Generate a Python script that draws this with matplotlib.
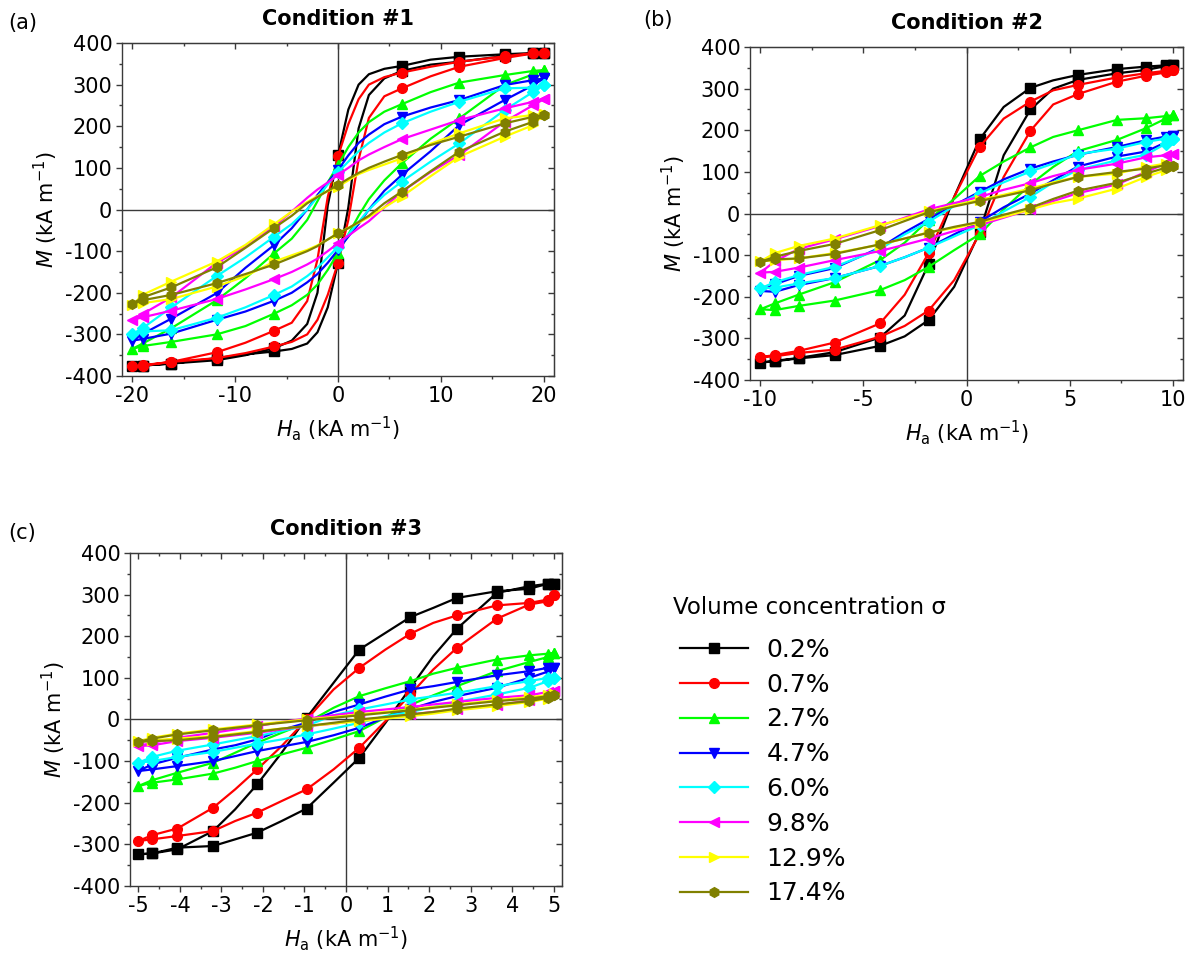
import numpy as np
import matplotlib
matplotlib.use("Agg")
import matplotlib.pyplot as plt
from matplotlib.ticker import MultipleLocator

plt.rcParams['font.family'] = ['DejaVu Sans']
plt.rcParams['mathtext.fontset'] = 'dejavusans'
plt.rcParams['axes.unicode_minus'] = False

# Series styling
labels = ['0.2%', '0.7%', '2.7%', '4.7%', '6.0%', '9.8%', '12.9%', '17.4%']
colors = ['#000000', '#ff0000', '#00ff00', '#0000ff', '#00ffff', '#ff00ff', '#ffff00', '#808000']
markers = ['s', 'o', '^', 'v', 'D', '<', '>', 'h']

# ---- Condition #1 ----
# field values of the descending branch (+Hmax -> -Hmax); ascending branch uses the reversed list
h_a = [20, 19, 16.2, 11.8, 9, 6.2, 4.5, 3, 2, 1, 0, -1, -2, -3, -4.5, -6.2, -9, -11.8, -16.2, -19, -20]
marks_a = [20, 19, 16.2, 11.8, 6.2, 0, -6.2, -11.8, -16.2, -19, -20]
a_down = [
    [377, 376, 373, 367, 360, 345, 338, 325, 300, 240, 130, 10, -200, -275, -315, -333, -350, -362, -370, -375, -377],
    [377, 376, 368, 355, 343, 329, 318, 300, 265, 205, 128, 30, -120, -220, -272, -291, -320, -343, -366, -374, -377],
    [335, 333, 323, 305, 282, 253, 235, 210, 185, 150, 107, 65, 20, -25, -70, -105, -165, -218, -285, -322, -335],
    [315, 311, 299, 263, 245, 223, 205, 180, 160, 130, 95, 65, 35, 0, -45, -85, -140, -201, -262, -299, -315],
    [299, 293, 291, 259, 235, 207, 185, 160, 140, 115, 90, 60, 30, 0, -35, -65, -115, -160, -235, -285, -299],
    [265, 259, 243, 215, 192, 169, 150, 132, 118, 100, 83, 65, 48, 28, -5, -40, -90, -128, -211, -251, -265],
    [230, 227, 219, 183, 158, 123, 108, 95, 85, 70, 55, 44, 32, 18, -5, -35, -85, -125, -173, -205, -230],
    [227, 223, 207, 175, 155, 131, 115, 100, 88, 74, 59, 45, 30, 15, -15, -44, -92, -139, -187, -211, -227],
]
a_up = [
    [-377, -375, -370, -357, -348, -341, -335, -322, -295, -235, -128, 5, 195, 275, 315, 333, 348, 355, 369, 375, 377],
    [-377, -375, -366, -357, -345, -329, -318, -300, -265, -205, -128, -25, 120, 220, 272, 291, 320, 343, 364, 375, 377],
    [-335, -328, -318, -300, -280, -250, -230, -205, -180, -145, -104, -60, -15, 25, 70, 111, 170, 219, 299, 325, 335],
    [-315, -311, -298, -265, -245, -219, -200, -175, -155, -128, -97, -65, -35, 0, 45, 83, 140, 203, 263, 299, 315],
    [-299, -293, -290, -260, -235, -205, -185, -160, -140, -115, -89, -60, -30, 0, 35, 67, 115, 159, 239, 283, 299],
    [-265, -259, -243, -215, -192, -167, -150, -132, -118, -100, -81, -63, -45, -28, 5, 43, 90, 131, 211, 251, 265],
    [-230, -225, -215, -185, -160, -125, -110, -97, -86, -72, -57, -44, -32, -18, 5, 31, 80, 127, 175, 203, 230],
    [-227, -218, -205, -177, -155, -132, -115, -100, -88, -72, -57, -45, -30, -15, 15, 43, 92, 139, 187, 211, 227],
]

# ---- Condition #2 ----
h_b = [10, 9.66, 8.7, 7.3, 5.4, 4.2, 3.1, 1.8, 0.63, -0.6, -1.84, -3, -4.2, -6.4, -8.15, -9.3, -10]
marks_b = [10, 9.66, 8.7, 7.3, 5.4, 3.1, 0.63, -1.84, -4.2, -6.4, -8.15, -9.3, -10]
b_down = [
    [358, 356, 353, 347, 333, 320, 302, 256, 178, 40, -121, -245, -298, -333, -347, -354, -358],
    [345, 343, 337, 327, 309, 296, 269, 228, 160, 40, -95, -195, -264, -310, -330, -340, -345],
    [236, 234, 229, 225, 200, 184, 159, 125, 90, 35, -15, -70, -112, -165, -195, -216, -230],
    [186, 185, 176, 160, 141, 125, 108, 82, 52, 20, -13, -45, -82, -131, -150, -170, -186],
    [180, 180, 172, 156, 143, 120, 101, 75, 48, 18, -20, -50, -85, -128, -148, -165, -180],
    [142, 140, 135, 120, 105, 90, 73, 57, 40, 25, 10, -10, -30, -62, -85, -115, -142],
    [115, 120, 112, 96, 88, 75, 60, 45, 33, 20, 5, -12, -28, -60, -78, -95, -115],
    [115, 116, 108, 100, 88, 72, 56, 42, 30, 17, 3, -18, -40, -73, -90, -104, -116],
]
b_up = [
    [-358, -355, -348, -340, -318, -295, -256, -176, -45, 140, 250, 300, 321, 337, 345, 354, 358],
    [-345, -343, -335, -327, -296, -270, -233, -160, -49, 88, 199, 262, 287, 317, 331, 339, 345],
    [-230, -232, -222, -209, -184, -160, -128, -88, -50, 10, 70, 112, 150, 177, 205, 228, 236],
    [-186, -188, -172, -155, -126, -105, -82, -50, -20, 15, 48, 80, 113, 137, 149, 171, 186],
    [-180, -178, -168, -155, -126, -105, -82, -55, -28, 5, 40, 75, 105, 128, 141, 168, 180],
    [-142, -140, -130, -112, -90, -75, -60, -42, -28, -10, 10, 30, 49, 70, 100, 120, 142],
    [-115, -112, -108, -95, -75, -60, -45, -35, -22, -8, 10, 25, 36, 60, 88, 104, 115],
    [-116, -110, -108, -97, -74, -60, -46, -32, -20, -3, 14, 35, 55, 74, 96, 110, 115],
]

# ---- Condition #3 ----
h_c = [5, 4.86, 4.41, 3.63, 2.67, 2.1, 1.55, 0.95, 0.32, -0.3, -0.95, -1.55, -2.14, -2.67, -3.2, -4.06, -4.67, -5]
marks_c = [5, 4.86, 4.41, 3.63, 2.67, 1.55, 0.32, -0.95, -2.14, -3.2, -4.06, -4.67, -5]
c_down = [
    [326, 326, 314, 308, 292, 268, 246, 208, 168, 88, 4, -80, -156, -216, -268, -312, -322, -324],
    [300, 288, 280, 274, 250, 232, 206, 168, 124, 72, 0, -64, -120, -168, -212, -262, -278, -292],
    [160, 158, 154, 144, 124, 110, 92, 75, 56, 28, -8, -32, -56, -80, -104, -128, -146, -160],
    [124, 124, 116, 106, 90, 80, 72, 55, 36, 18, -8, -25, -48, -62, -72, -92, -108, -124],
    [100, 100, 92, 80, 64, 56, 48, 36, 24, 10, -15, -28, -40, -50, -60, -75, -90, -104],
    [68, 66, 58, 52, 42, 36, 30, 24, 18, 10, 2, -6, -16, -24, -32, -44, -56, -64],
    [60, 58, 54, 46, 36, 30, 24, 18, 12, 6, 0, -6, -12, -18, -24, -34, -44, -52],
    [58, 56, 50, 44, 34, 28, 22, 16, 10, 4, -2, -8, -14, -20, -26, -36, -46, -54],
]
c_up = [
    [-324, -322, -308, -304, -288, -272, -244, -214, -152, -92, -8, 76, 152, 218, 304, 320, 326, 326],
    [-292, -288, -280, -268, -244, -224, -196, -168, -120, -68, -4, 60, 120, 172, 242, 276, 284, 300],
    [-160, -152, -144, -130, -116, -100, -84, -68, -48, -28, 5, 35, 58, 80, 116, 138, 150, 160],
    [-124, -120, -112, -100, -88, -76, -65, -54, -38, -20, 5, 25, 42, 56, 76, 100, 115, 124],
    [-104, -100, -90, -78, -68, -58, -48, -36, -22, -8, 8, 18, 30, 42, 60, 76, 92, 100],
    [-66, -62, -52, -44, -38, -32, -24, -16, -10, -2, 4, 12, 18, 24, 34, 46, 58, 68],
    [-52, -50, -46, -40, -34, -28, -22, -16, -10, -4, 2, 8, 14, 22, 32, 42, 50, 60],
    [-54, -52, -50, -42, -36, -30, -22, -16, -8, 0, 6, 12, 18, 26, 36, 44, 52, 58],
]

spine_col = '#3a3a3a'
fs = 15


def draw_panel(ax, h, marks, down, up, xlim, xmajor, title):
    h = np.array(h, dtype=float)
    h_loop = np.concatenate([h, h[::-1][1:]])
    idx = [i for i in range(len(h_loop)) if h_loop[i] in marks]
    ax.axhline(0, color=spine_col, lw=1.0, zorder=1)
    ax.axvline(0, color=spine_col, lw=1.0, zorder=1)
    for k in range(len(labels)):
        m_loop = np.concatenate([down[k], up[k][1:]])
        ax.plot(h_loop, m_loop, color=colors[k], lw=1.6, marker=markers[k],
                ms=6 if markers[k] == 'D' else 7, markevery=idx, label=labels[k],
                zorder=2 + k)
    ax.set_xlim(xlim)
    ax.set_ylim(-400, 400)
    ax.xaxis.set_major_locator(MultipleLocator(xmajor))
    ax.xaxis.set_minor_locator(MultipleLocator(xmajor / 2))
    ax.yaxis.set_major_locator(MultipleLocator(100))
    ax.yaxis.set_minor_locator(MultipleLocator(50))
    ax.tick_params(which='both', direction='out', labelsize=fs, color=spine_col, width=1)
    ax.tick_params(which='major', length=4, pad=3)
    ax.tick_params(which='minor', length=2.5)
    for s in ax.spines.values():
        s.set_color(spine_col)
        s.set_linewidth(1.0)
    # inward mirror ticks on top and right
    top = ax.secondary_xaxis('top')
    top.xaxis.set_major_locator(MultipleLocator(xmajor))
    top.xaxis.set_minor_locator(MultipleLocator(xmajor / 2))
    top.tick_params(which='both', direction='in', labeltop=False, color=spine_col, width=1)
    top.tick_params(which='major', length=4)
    top.tick_params(which='minor', length=2.5)
    top.spines['top'].set_color(spine_col)
    right = ax.secondary_yaxis('right')
    right.yaxis.set_major_locator(MultipleLocator(100))
    right.yaxis.set_minor_locator(MultipleLocator(50))
    right.tick_params(which='both', direction='in', labelright=False, color=spine_col, width=1)
    right.tick_params(which='major', length=4)
    right.tick_params(which='minor', length=2.5)
    right.spines['right'].set_color(spine_col)
    ax.set_xlabel(r'$H_\mathrm{a}$ (kA m$^{-1}$)', fontsize=fs, labelpad=6)
    ax.set_ylabel(r'$M$ (kA m$^{-1}$)', fontsize=fs, labelpad=4)
    ax.set_title(title, fontsize=fs, fontweight='bold', pad=13)


fig = plt.figure(figsize=(11.93, 9.58), dpi=100)
ax_a = fig.add_axes([0.1023, 0.6075, 0.3621, 0.3476])
ax_b = fig.add_axes([0.6287, 0.6033, 0.3630, 0.3476])
ax_c = fig.add_axes([0.1090, 0.0752, 0.3621, 0.3476])

draw_panel(ax_a, h_a, marks_a, a_down, a_up, (-21, 21), 10, 'Condition #1')
draw_panel(ax_b, h_b, marks_b, b_down, b_up, (-10.5, 10.5), 5, 'Condition #2')
draw_panel(ax_c, h_c, marks_c, c_down, c_up, (-5.2, 5.2), 1, 'Condition #3')

fig.text(0.007, 0.976, '(a)', fontsize=fs, va='center', ha='left')
fig.text(0.539, 0.979, '(b)', fontsize=fs, va='center', ha='left')
fig.text(0.007, 0.4436, '(c)', fontsize=fs, va='center', ha='left')

# legend: title as its own text, entries below
fig.text(673 / 1193, 1 - 607 / 958, 'Volume concentration σ', fontsize=16.5, va='center', ha='left')
handles, labs = ax_c.get_legend_handles_labels()
fig.legend(handles, labs, loc='upper left', bbox_to_anchor=(680 / 1193, 1 - 638 / 958),
           frameon=False, fontsize=18, handlelength=2.7, handletextpad=0.75,
           labelspacing=0.43, borderpad=0, borderaxespad=0)

fig.savefig('out.png', dpi=100)
